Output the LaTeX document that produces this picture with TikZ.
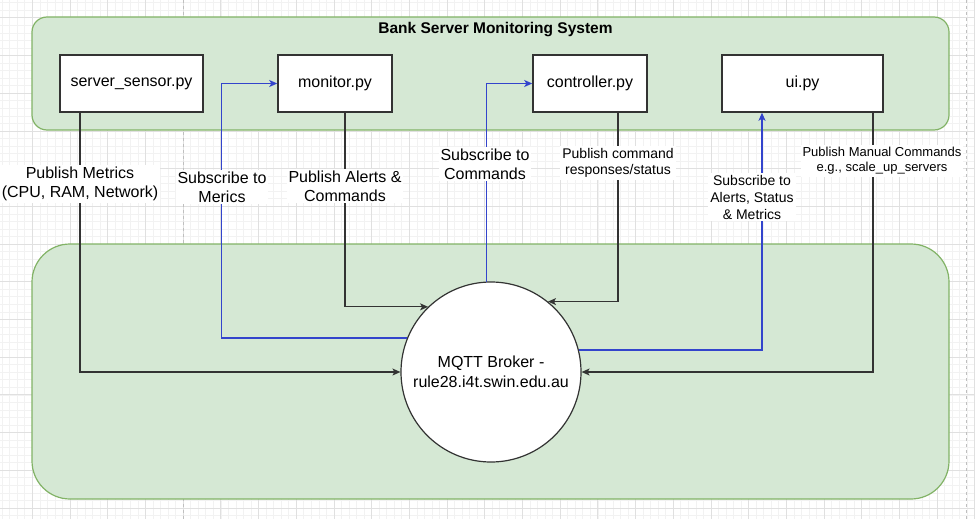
\documentclass[tikz,border=0pt]{standalone}
\usepackage{fontspec}
\setmainfont{Liberation Sans}
\usetikzlibrary{positioning,arrows.meta}
\definecolor{grpfill}{HTML}{D5E8D4}
\definecolor{grpline}{HTML}{82B366}
\definecolor{subblue}{HTML}{3344CC}
\definecolor{pubgray}{HTML}{333333}
\definecolor{gridminor}{HTML}{F2F2F2}
\definecolor{gridmajor}{HTML}{E0E0E0}

\begin{document}
\begin{tikzpicture}[x=1pt, y=-1pt,
        grp/.style={draw=grpline, fill=grpfill, line width=1.2pt, inner sep=0pt},
        mod/.style={rectangle, draw=pubgray, fill=white, line width=1.5pt, minimum height=57, inner sep=0pt, font=\fontsize{16}{19}\selectfont},
        broker/.style={circle, draw=pubgray, fill=white, line width=1.2pt, minimum size=180, inner sep=0pt, align=center, font=\fontsize{16}{20}\selectfont},
        lbl/.style={fill=white, inner sep=2pt, align=center, font=\fontsize{16}{19}\selectfont},
        pub/.style={draw=pubgray, line width=1.1pt, -{Stealth[length=8pt, width=7pt, inset=2pt]}},
        sub/.style={draw=subblue, line width=1.3pt, -{Stealth[length=8pt, width=7pt, inset=2pt]}},
        pagebrk/.style={draw=black!25, dashed, line width=0.8pt}
    ]
    \useasboundingbox (0,0) rectangle (975,519);
    \fill[white] (0,0) rectangle (975,519);

    % background grid
    \foreach \i in {0,...,130}
        \draw[gridminor, line width=0.6pt] ({-5.4+7.54*\i},0) -- ({-5.4+7.54*\i},519);
    \foreach \i in {0,...,72}
        \draw[gridminor, line width=0.6pt] (0,{-19.9+7.54*\i}) -- (975,{-19.9+7.54*\i});
    \foreach \i in {0,...,26}
        \draw[gridmajor, line width=0.7pt] ({-5.4+37.7*\i},0) -- ({-5.4+37.7*\i},519);
    \foreach \i in {0,...,14}
        \draw[gridmajor, line width=0.7pt] (0,{-19.9+37.7*\i}) -- (975,{-19.9+37.7*\i});
    \draw[pagebrk] (183,0) -- (183,519);
    \draw[pagebrk] (966,0) -- (966,519);

    \node[grp, rounded corners=15, minimum width=917, minimum height=113] (sys) at (490.5,73.5) {};
    \node[grp, rounded corners=38, minimum width=917, minimum height=255] (bus) at (490.5,371.5) {};
    \node[font=\fontsize{15.5}{18}\selectfont\bfseries] (ttl) at (495.5,30) {Bank Server Monitoring System};

    \node[mod, minimum width=143] (srv) at (131.5,83.5) {server\_sensor.py};
    \node[mod, minimum width=114] (mon) at (335,83.5)   {monitor.py};
    \node[mod, minimum width=114] (ctl) at (590,83.5)   {controller.py};
    \node[mod, minimum width=161] (ui)  at (802.5,83.5) {ui.py};

    \node[broker] (brk) at (491,372) {MQTT Broker -\\rule28.i4t.swin.edu.au};

    \draw[pub] ([xshift=-51.5]srv.south) |- (brk.west);
    \draw[sub] (brk.158) -| ([xshift=-56]mon.west) -- (mon.west);
    \draw[pub] ([xshift=10]mon.south) |- (brk.134.7);
    \draw[sub] (brk.93) |- (ctl.west);
    \draw[pub] ([xshift=28]ctl.south) |- (brk.51);
    \draw[sub] (brk.14.8) -| ([xshift=-40.5]ui.south);
    \draw[pub] ([xshift=70.5]ui.south) |- (brk.east);

    \node[lbl] (lmet) at (80,184)  {Publish Metrics\\(CPU, RAM, Network)};
    \node[lbl] (lsm)  at (222,187) {Subscribe to\\Merics};
    \node[lbl] (lpa)  at (345,186) {Publish Alerts \&\\Commands};
    \node[lbl] (lsc)  at (485,164) {Subscribe to\\Commands};
    \node[lbl, font=\fontsize{14}{16}\selectfont] (lpc) at (618,163) {Publish command\\responses/status};
    \node[lbl, font=\fontsize{14}{17}\selectfont] (lsa) at (752,197) {Subscribe to\\Alerts, Status\\\& Metrics};
    \node[lbl, font=\fontsize{13}{15}\selectfont] (lpm) at (882,161) {Publish Manual Commands\\e.g., scale\_up\_servers};
\end{tikzpicture}
\end{document}
